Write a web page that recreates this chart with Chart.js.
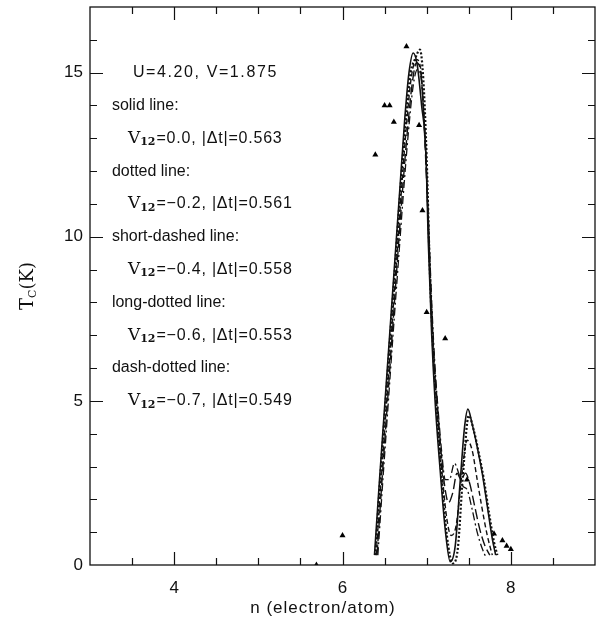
<!DOCTYPE html>
<html>
<head>
<meta charset="utf-8">
<script src="https://cdn.jsdelivr.net/npm/chart.js@4.4.1/dist/chart.umd.min.js"></script>
<style>
  html, body { margin: 0; padding: 0; background: #fff; }
</style>
</head>
<body>
<canvas id="tcChart" width="596" height="628"></canvas>
<script>
// tick positions
const xLabelTicks = [4, 6, 8];
const xMinorTicks = [3.5, 4, 4.5, 5, 5.5, 6, 6.5, 7, 7.5, 8, 8.5];
const yLabelTicks = [0, 5, 10, 15];
const yMinorTicks = [1, 2, 3, 4, 5, 6, 7, 8, 9, 10, 11, 12, 13, 14, 15, 16];

// V12 = 0.0 (solid)
const nSolid = [6.38, 6.44, 6.50, 6.56, 6.62, 6.68, 6.74, 6.79, 6.84, 6.89, 6.94, 6.99, 7.02, 7.06, 7.10, 7.16, 7.22, 7.28, 7.34, 7.40, 7.45, 7.49, 7.54, 7.60, 7.66, 7.72, 7.78, 7.82];
const tSolid = [0.3, 2.6, 4.8, 7.0, 9.2, 11.4, 13.6, 15.0, 15.6, 15.2, 14.0, 12.6, 9.8, 7.0, 5.0, 2.9, 1.1, 0.1, 0.6, 2.6, 4.2, 4.75, 4.3, 3.6, 2.8, 1.8, 0.8, 0.3];

// V12 = -0.2 (dotted)
const nDotted = [6.39, 6.45, 6.51, 6.57, 6.63, 6.69, 6.75, 6.81, 6.86, 6.92, 6.96, 7.00, 7.04, 7.08, 7.12, 7.18, 7.24, 7.31, 7.37, 7.43, 7.50, 7.56, 7.62, 7.68, 7.74, 7.80, 7.84];
const tDotted = [0.3, 2.7, 4.9, 7.1, 9.3, 11.5, 13.5, 15.0, 15.4, 15.7, 14.8, 12.4, 8.8, 6.4, 4.7, 2.6, 0.9, 0.05, 0.5, 2.7, 4.55, 4.1, 3.4, 2.6, 1.6, 0.7, 0.3];

// V12 = -0.4 (short-dashed)
const nShort = [6.40, 6.46, 6.52, 6.58, 6.64, 6.70, 6.76, 6.82, 6.88, 6.93, 6.97, 7.01, 7.05, 7.09, 7.13, 7.19, 7.24, 7.29, 7.35, 7.42, 7.48, 7.54, 7.60, 7.66, 7.72, 7.78];
const tShort = [0.3, 2.6, 4.8, 7.0, 9.2, 11.4, 13.4, 14.9, 15.4, 15.1, 13.6, 11.2, 8.2, 6.0, 4.5, 2.6, 1.4, 0.9, 1.2, 2.8, 3.8, 3.5, 2.6, 1.7, 0.9, 0.3];

// V12 = -0.6 (long-dotted)
const nLong = [6.41, 6.47, 6.53, 6.59, 6.65, 6.71, 6.77, 6.83, 6.88, 6.93, 6.97, 7.01, 7.05, 7.09, 7.13, 7.18, 7.22, 7.26, 7.31, 7.36, 7.41, 7.46, 7.51, 7.57, 7.63, 7.69, 7.75];
const tLong = [0.3, 2.6, 4.8, 7.0, 9.2, 11.3, 13.2, 14.7, 15.3, 15.0, 13.4, 11.0, 8.3, 6.2, 4.8, 3.2, 2.3, 1.9, 2.2, 2.8, 2.6, 2.8, 2.5, 1.8, 1.1, 0.6, 0.3];

// V12 = -0.7 (dash-dotted)
const nDashDot = [6.42, 6.48, 6.54, 6.60, 6.66, 6.72, 6.78, 6.84, 6.89, 6.94, 6.98, 7.02, 7.06, 7.10, 7.14, 7.18, 7.22, 7.27, 7.33, 7.38, 7.43, 7.48, 7.54, 7.60, 7.66, 7.71];
const tDashDot = [0.3, 2.6, 4.8, 7.0, 9.1, 11.2, 13.1, 14.6, 15.1, 14.7, 13.0, 10.6, 8.0, 6.0, 4.6, 3.4, 2.6, 2.6, 3.1, 2.8, 2.4, 2.3, 1.7, 1.0, 0.5, 0.2];

// experimental points (triangles)
const nExp = [5.69, 6.00, 6.39, 6.50, 6.56, 6.61, 6.76, 6.91, 6.95, 7.00, 7.22, 7.48, 7.80, 7.90, 7.95, 8.00];
const tExp = [0.0, 0.9, 12.5, 14.0, 14.0, 13.5, 15.8, 13.4, 10.8, 7.7, 6.9, 2.6, 0.95, 0.75, 0.58, 0.48];

// annotation text
const headerText = "U=4.20, V=1.875";
const styleNames = ["solid line:", "dotted line:", "short-dashed line:", "long-dotted line:", "dash-dotted line:"];
const v12Values = ["0.0", "\u22120.2", "\u22120.4", "\u22120.6", "\u22120.7"];
const dtValues = ["0.563", "0.561", "0.558", "0.553", "0.549"];

const pts = (xs, ys) => xs.map((v, i) => ({ x: v, y: ys[i] }));

function curve(xs, ys, dash, width) {
  return {
    data: pts(xs, ys),
    showLine: true,
    borderColor: "#111",
    borderWidth: width,
    borderDash: dash,
    pointRadius: 0,
    cubicInterpolationMode: "monotone",
    fill: false
  };
}

// frame, inward ticks, annotation and axis titles
const decor = {
  id: "decor",
  afterDraw(chart) {
    const { ctx, chartArea: a, scales: { x, y } } = chart;
    ctx.save();
    ctx.strokeStyle = "#111";
    ctx.lineWidth = 1.3;
    ctx.strokeRect(a.left, a.top, a.right - a.left, a.bottom - a.top);

    ctx.lineWidth = 1.2;
    ctx.beginPath();
    xMinorTicks.forEach(v => {
      const px = Math.round(x.getPixelForValue(v)) + 0.5;
      const len = xLabelTicks.includes(v) ? 13 : 7;
      ctx.moveTo(px, a.bottom); ctx.lineTo(px, a.bottom - len);
      ctx.moveTo(px, a.top); ctx.lineTo(px, a.top + len);
    });
    yMinorTicks.forEach(v => {
      const py = Math.round(y.getPixelForValue(v)) + 0.5;
      const len = yLabelTicks.includes(v) ? 13 : 7;
      ctx.moveTo(a.left, py); ctx.lineTo(a.left + len, py);
      ctx.moveTo(a.right, py); ctx.lineTo(a.right - len, py);
    });
    ctx.stroke();

    // annotation block, one line per unit of Tc
    ctx.fillStyle = "#111";
    ctx.textBaseline = "middle";
    ctx.textAlign = "left";
    ctx.font = "16px 'Liberation Sans', Arial, sans-serif";
    ctx.letterSpacing = "1.6px";
    ctx.fillText(headerText, x.getPixelForValue(3.51), y.getPixelForValue(15));
    ctx.letterSpacing = "0px";
    styleNames.forEach((name, i) => {
      const rowA = y.getPixelForValue(14 - 2 * i);
      const rowB = y.getPixelForValue(13 - 2 * i);
      ctx.font = "16px 'Liberation Sans', Arial, sans-serif";
      ctx.fillText(name, x.getPixelForValue(3.26), rowA);
      let px = x.getPixelForValue(3.45);
      ctx.font = "17px 'DejaVu Serif', serif";
      ctx.fillText("V", px, rowB);
      px += ctx.measureText("V").width;
      ctx.font = "bold 11px 'DejaVu Serif', serif";
      ctx.fillText("12", px, rowB + 4);
      px += ctx.measureText("12").width + 1;
      ctx.font = "16px 'Liberation Sans', Arial, sans-serif";
      ctx.letterSpacing = "0.8px";
      const rest = "=" + v12Values[i] + ", |\u0394t|=" + dtValues[i];
      ctx.fillText(rest, px, rowB);
      ctx.letterSpacing = "0px";
    });

    // x title
    ctx.textAlign = "center";
    ctx.font = "17px 'Liberation Sans', Arial, sans-serif";
    ctx.letterSpacing = "1px";
    ctx.fillText("n (electron/atom)", 323, 608);
    ctx.letterSpacing = "0px";

    // y title T_C(K), rotated
    ctx.translate(28, (a.top + a.bottom) / 2);
    ctx.rotate(-Math.PI / 2);
    ctx.textAlign = "left";
    ctx.font = "18px 'DejaVu Serif', serif";
    const wT = ctx.measureText("T").width;
    ctx.font = "11px 'DejaVu Serif', serif";
    const wC = ctx.measureText("C").width;
    ctx.font = "18px 'DejaVu Serif', serif";
    const wK = ctx.measureText("(K)").width;
    let tx = -(wT + wC + wK) / 2;
    ctx.fillText("T", tx, 0);
    tx += wT;
    ctx.font = "11px 'DejaVu Serif', serif";
    ctx.fillText("C", tx, 5);
    tx += wC;
    ctx.font = "18px 'DejaVu Serif', serif";
    ctx.fillText("(K)", tx, 0);
    ctx.restore();
  }
};

new Chart(document.getElementById("tcChart"), {
  type: "scatter",
  data: {
    datasets: [
      curve(nSolid, tSolid, [], 1.6),
      curve(nDotted, tDotted, [2, 2], 2.2),
      curve(nShort, tShort, [5, 3], 1.4),
      curve(nLong, tLong, [10, 4], 1.4),
      curve(nDashDot, tDashDot, [8, 3, 2, 3], 1.3),
      {
        data: pts(nExp, tExp),
        pointStyle: "triangle",
        pointRadius: 3.5,
        backgroundColor: "#000",
        borderColor: "#000",
        borderWidth: 0,
        showLine: false
      }
    ]
  },
  options: {
    responsive: false,
    animation: false,
    layout: { autoPadding: false, padding: { top: 7, right: 1, left: 0, bottom: 0 } },
    plugins: { legend: { display: false }, tooltip: { enabled: false } },
    scales: {
      x: {
        type: "linear",
        min: 3,
        max: 9,
        grid: { display: false, drawTicks: false },
        border: { display: false },
        afterBuildTicks: s => { s.ticks = xLabelTicks.map(v => ({ value: v })); },
        afterFit: s => { s.height = 63; s.paddingLeft = 0; s.paddingRight = 0; },
        ticks: {
          padding: 13,
          color: "#111",
          font: { family: "'Liberation Sans', Arial, sans-serif", size: 17 }
        }
      },
      y: {
        min: 0,
        max: 17,
        grid: { display: false, drawTicks: false },
        border: { display: false },
        afterBuildTicks: s => { s.ticks = yLabelTicks.map(v => ({ value: v })); },
        afterFit: s => { s.width = 90; s.paddingTop = 0; s.paddingBottom = 0; },
        ticks: {
          padding: 7,
          color: "#111",
          font: { family: "'Liberation Sans', Arial, sans-serif", size: 17 }
        }
      }
    }
  },
  plugins: [decor]
});
</script>
</body>
</html>
